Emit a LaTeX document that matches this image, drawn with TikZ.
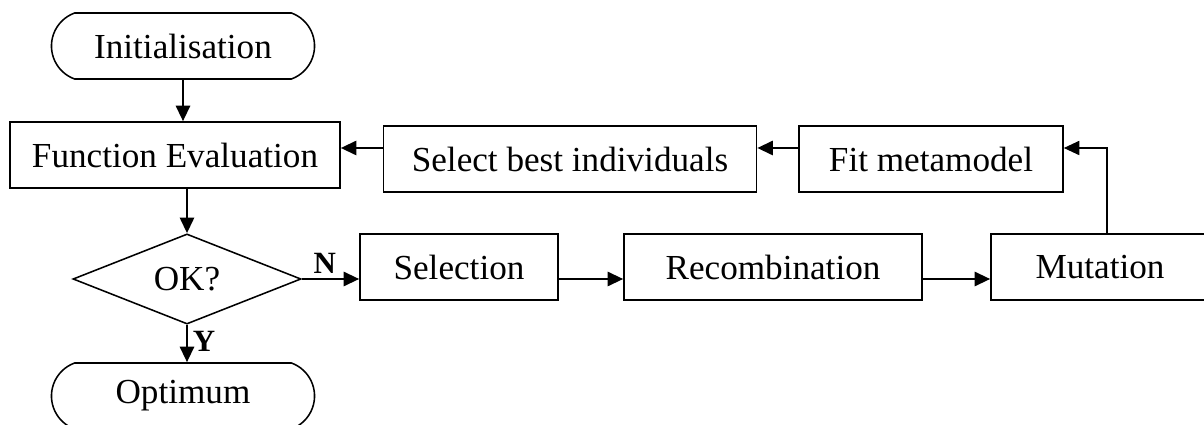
\documentclass[tikz,border=0pt]{standalone}
\usepackage{fontspec}
\setmainfont{Liberation Serif}
\usetikzlibrary{shapes.geometric,shapes.misc,arrows.meta}

\begin{document}
\begin{tikzpicture}[x=0.025cm,y=-0.025cm,line width=1.1pt,
  font=\fontsize{25}{29}\selectfont,
  box/.style={draw,rectangle,minimum height=1.65cm,inner sep=0pt},
  term/.style={draw,rounded rectangle,rounded rectangle arc length=140,minimum height=1.65cm,minimum width=6.575cm,inner sep=0pt},
  flow/.style={line width=1.7pt,-{Triangle[length=11pt,width=10pt]}},
  yn/.style={font=\fontsize{22}{26}\selectfont\bfseries}]
\useasboundingbox (0,0) rectangle (1204,425);
\node[term] (init) at (183,46) {Initialisation};
\node[box,minimum width=8.25cm] (fe) at (175,155) {Function Evaluation};
\node[draw,diamond,minimum width=5.7cm,minimum height=2.15cm,inner sep=0pt] (ok) at (187,279) {OK?};
\node[term] (opt) at (183,396) {Optimum};
\node[box,minimum width=9.325cm] (best) at (570,159) {Select best individuals};
\node[box,minimum width=6.6cm] (fit) at (931,159) {Fit metamodel};
\node[box,minimum width=4.95cm] (sel) at (459,267) {Selection};
\node[box,minimum width=7.45cm] (rec) at (773,267) {Recombination};
\node[box,minimum width=5.45cm] (mut) at (1100,267) {Mutation};
\coordinate (toprow) at (0,148);
\draw[flow] (init.south) -- (init.south |- fe.north);
\draw[flow] (ok.north |- fe.south) -- (ok.north);
\draw[flow] (ok.south) -- (ok.south |- opt.north) node[yn,pos=0.45,right] (y) {Y};
\draw[flow] (ok.east) -- (sel.west |- ok.east) node[yn,pos=0.4,above] (n) {N};
\draw[flow] (sel.east |- ok.east) -- (rec.west |- ok.east);
\draw[flow] (rec.east |- ok.east) -- (mut.west |- ok.east);
\draw[flow,line width=1.1pt] ([xshift=0.175cm]mut.north) |- (fit.east |- toprow);
\draw[flow] (fit.west |- toprow) -- (best.east |- toprow);
\draw[flow] (best.west |- toprow) -- (fe.east |- toprow);
\end{tikzpicture}
\end{document}
